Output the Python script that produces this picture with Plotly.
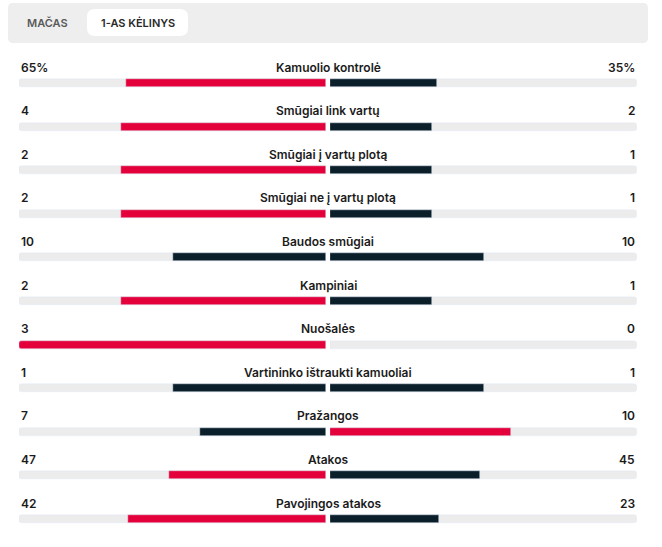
import plotly.graph_objects as go

# ---------------- data ----------------
stats = ["Kamuolio kontrolė", "Smūgiai link vartų", "Smūgiai į vartų plotą",
         "Smūgiai ne į vartų plotą", "Baudos smūgiai", "Kampiniai", "Nuošalės",
         "Vartininko ištraukti kamuoliai", "Pražangos", "Atakos", "Pavojingos atakos"]
home = [65, 4, 2, 2, 10, 2, 3, 1, 7, 47, 42]
away = [35, 2, 1, 1, 10, 1, 0, 1, 10, 45, 23]
units = ["%", "", "", "", "", "", "", "", "", "", ""]
tabs = ["MAČAS", "1-AS KĖLINYS"]

# ---------------- style ----------------
W, H = 662, 547
RED = "#e4003b"
DARK = "#0b1f2a"
TRACK = "#ececec"
TEXT = "#1b1b1b"
FONT = "Inter"

n = len(stats)
idx = list(range(n))
home_share = [h / (h + a) if (h + a) else 0 for h, a in zip(home, away)]
away_share = [a / (h + a) if (h + a) else 0 for h, a in zip(home, away)]
home_col = [RED if h > a else DARK for h, a in zip(home, away)]
away_col = [RED if a > h else DARK for h, a in zip(home, away)]

# pixel geometry of rows
first_px, step_px, bar_px = 83, 43.6, 8
y_top = -first_px / step_px
y_bot = (H - first_px) / step_px
bw = bar_px / step_px

def px(x):
    return x / W

fig = go.Figure()
common = dict(orientation="h", width=bw, hoverinfo="skip", showlegend=False)
fig.add_trace(go.Bar(x=[1] * n, y=idx, marker=dict(color=TRACK, cornerradius=3),
                     xaxis="x", yaxis="y", **common))
fig.add_trace(go.Bar(x=[1] * n, y=idx, marker=dict(color=TRACK, cornerradius=3),
                     xaxis="x2", yaxis="y", **common))
fig.add_trace(go.Bar(x=home_share, y=idx, marker=dict(color=home_col, cornerradius=3),
                     xaxis="x", yaxis="y", **common))
fig.add_trace(go.Bar(x=away_share, y=idx, marker=dict(color=away_col, cornerradius=3),
                     xaxis="x2", yaxis="y", **common))

lab_font = dict(family=FONT, size=12, color=TEXT, weight=600)
ann = []
for i in idx:
    ann.append(dict(x=0, y=i, xref="x2", yref="y", text=stats[i], showarrow=False,
                    xanchor="center", yanchor="middle", xshift=-2, yshift=16, font=lab_font))
    ann.append(dict(x=1, y=i, xref="x", yref="y", text=f"{home[i]}{units[i]}", showarrow=False,
                    xanchor="left", yanchor="middle", yshift=16, font=lab_font))
    ann.append(dict(x=1, y=i, xref="x2", yref="y", text=f"{away[i]}{units[i]}", showarrow=False,
                    xanchor="right", yanchor="middle", yshift=16, font=lab_font))

# header tabs
def rrect(x0, y0, x1, y1, r):
    X = lambda v: v / W
    Y = lambda v: 1 - v / H
    return (f"M {X(x0 + r)} {Y(y0)} L {X(x1 - r)} {Y(y0)} Q {X(x1)} {Y(y0)} {X(x1)} {Y(y0 + r)} "
            f"L {X(x1)} {Y(y1 - r)} Q {X(x1)} {Y(y1)} {X(x1 - r)} {Y(y1)} "
            f"L {X(x0 + r)} {Y(y1)} Q {X(x0)} {Y(y1)} {X(x0)} {Y(y1 - r)} "
            f"L {X(x0)} {Y(y0 + r)} Q {X(x0)} {Y(y0)} {X(x0 + r)} {Y(y0)} Z")

shapes = [
    dict(type="path", xref="paper", yref="paper", path=rrect(8, 3, 648, 43, 5),
         fillcolor="#eeeeee", line=dict(width=0), layer="below"),
    dict(type="path", xref="paper", yref="paper", path=rrect(87, 9, 188, 36, 8),
         fillcolor="#ffffff", line=dict(width=0), layer="below"),
]
ann.append(dict(x=px(47), y=1 - 22.5 / H, xref="paper", yref="paper", text=tabs[0],
                showarrow=False, xanchor="center", yanchor="middle",
                font=dict(family=FONT, size=11, color="#5a5a5a", weight=600)))
ann.append(dict(x=px(138), y=1 - 22.5 / H, xref="paper", yref="paper", text=tabs[1],
                showarrow=False, xanchor="center", yanchor="middle",
                font=dict(family=FONT, size=11, color="#2a2a2a", weight=600)))

fig.update_layout(
    width=W, height=H, margin=dict(l=0, r=0, t=0, b=0),
    paper_bgcolor="white", plot_bgcolor="rgba(0,0,0,0)",
    barmode="overlay", bargap=0,
    xaxis=dict(domain=[px(19), px(326)], range=[1, 0], visible=False, fixedrange=True),
    xaxis2=dict(domain=[px(330), px(637)], range=[0, 1], visible=False, fixedrange=True),
    yaxis=dict(domain=[0, 1], range=[y_bot, y_top], visible=False, fixedrange=True),
    annotations=ann, shapes=shapes,
)

fig.write_html("out.html")
